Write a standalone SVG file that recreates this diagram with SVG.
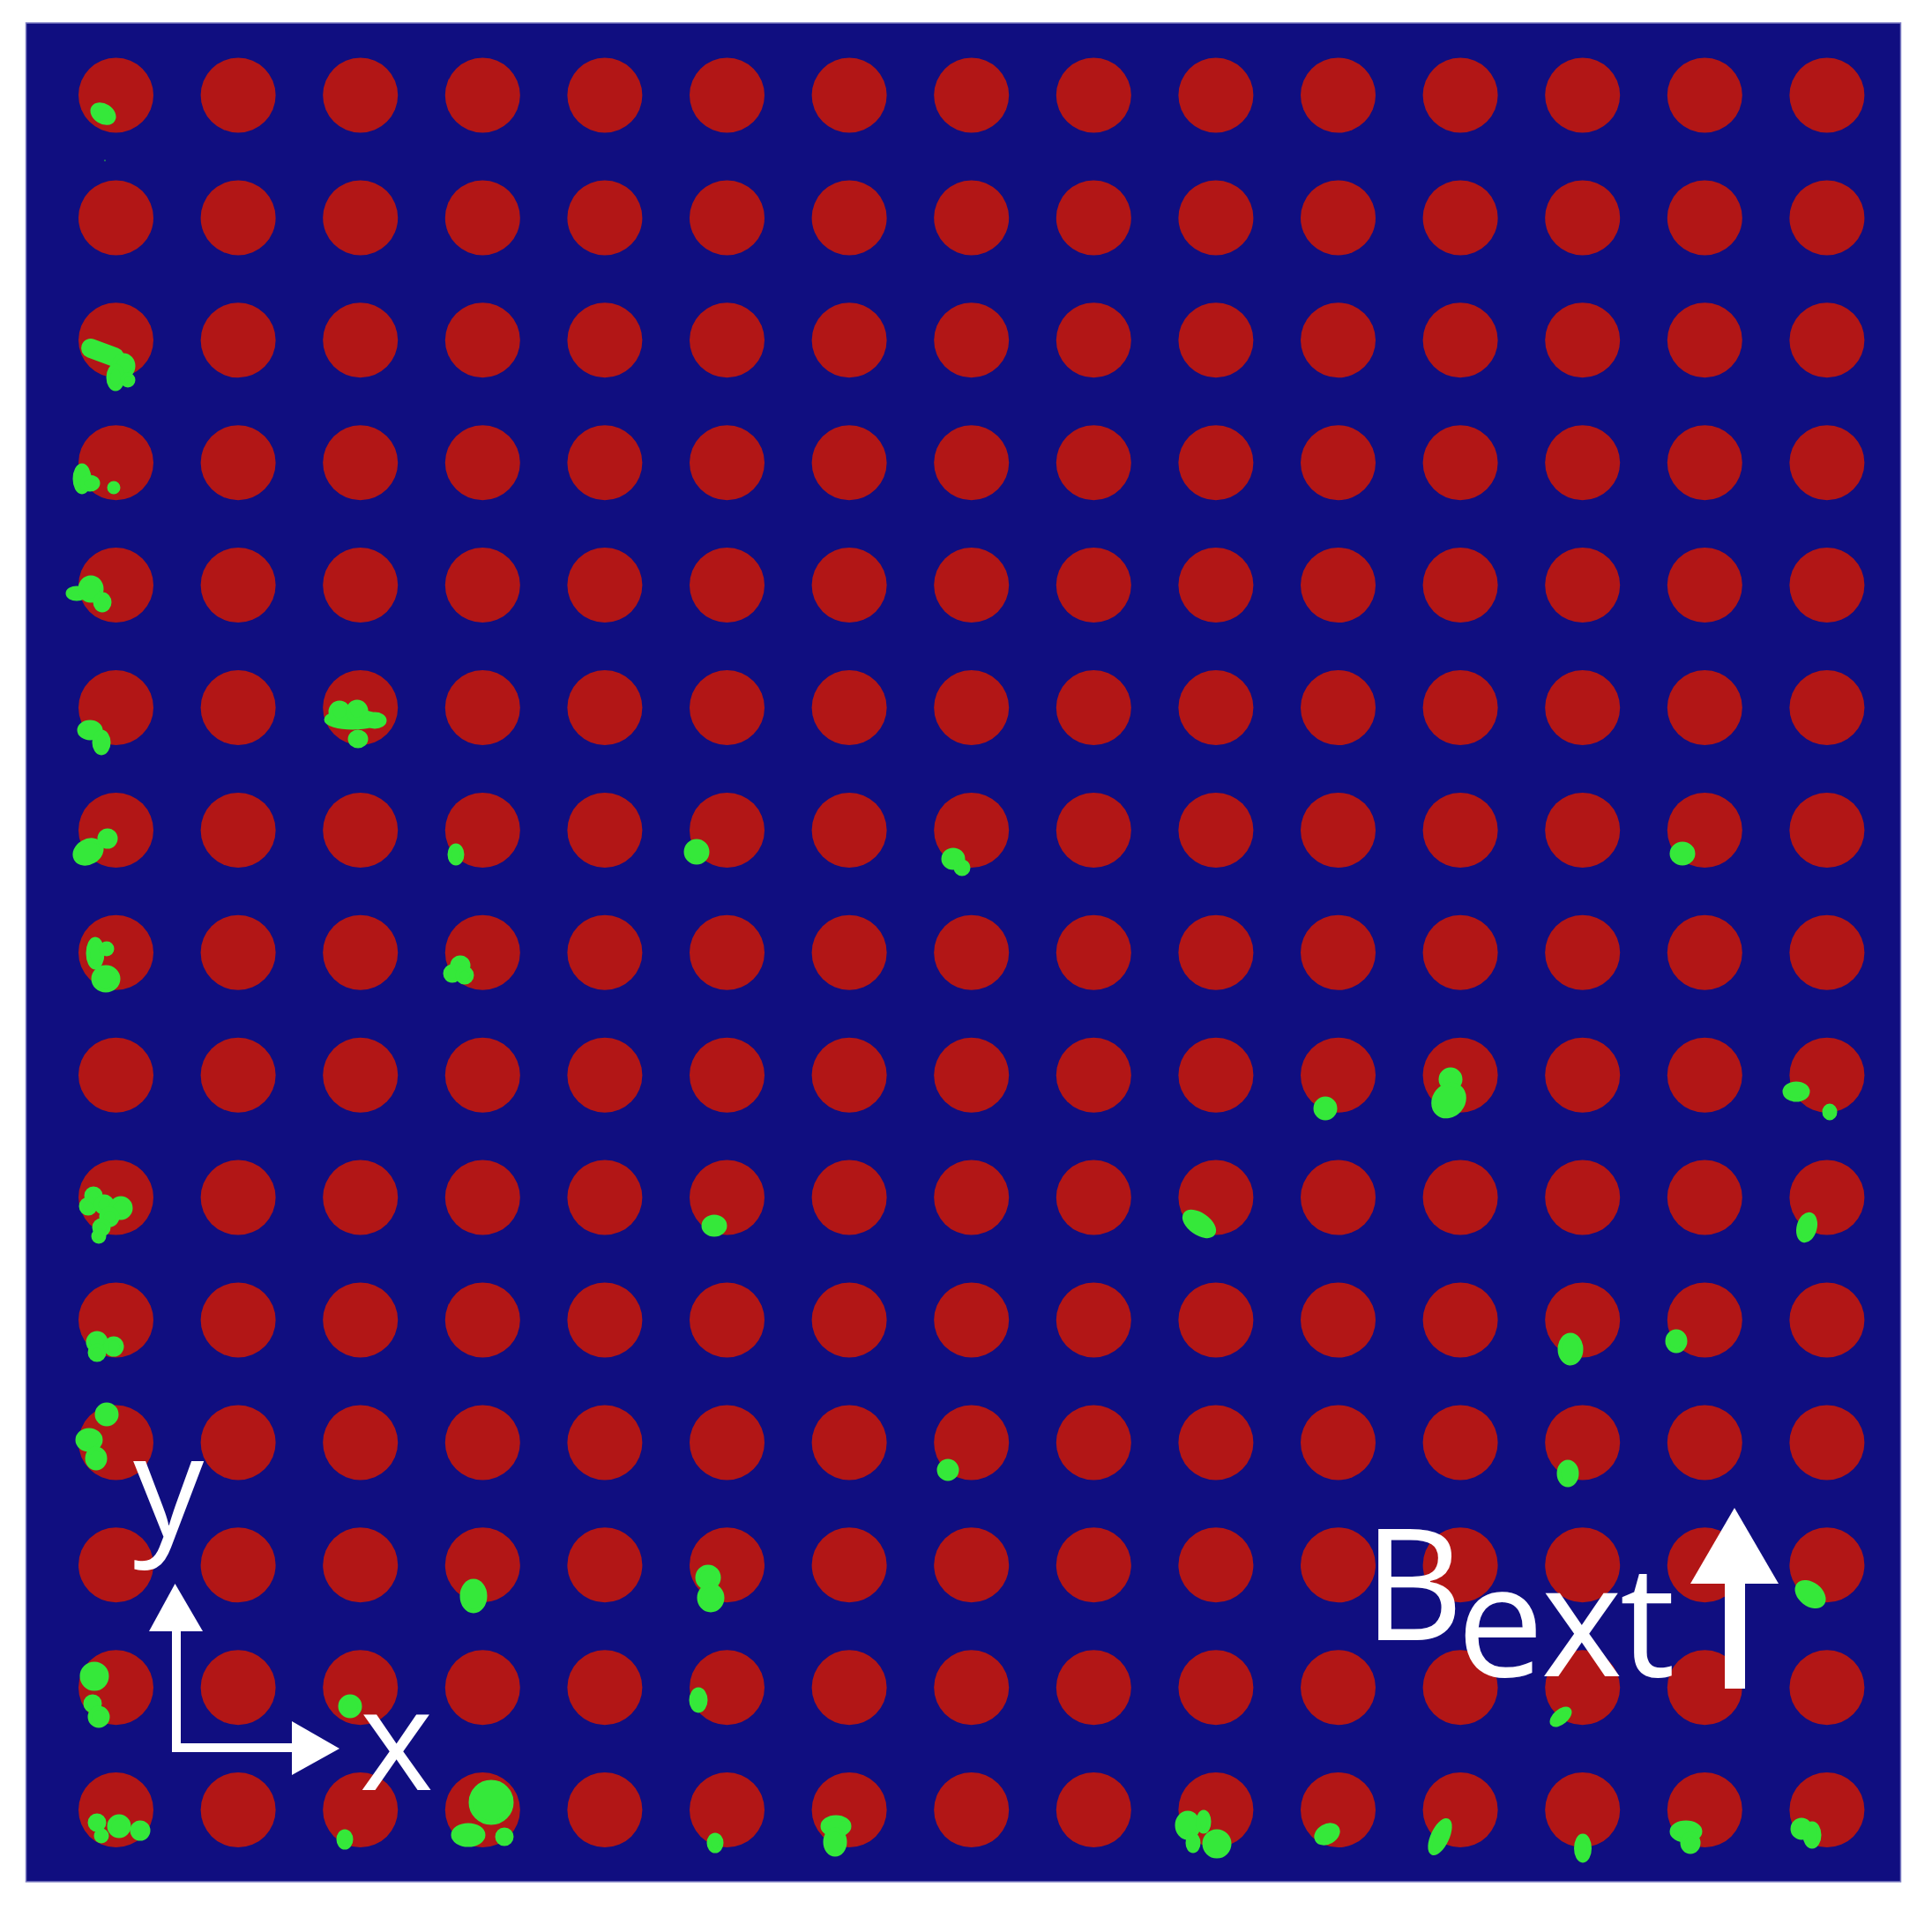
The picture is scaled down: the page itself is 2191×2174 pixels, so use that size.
<svg xmlns="http://www.w3.org/2000/svg" xmlns:xlink="http://www.w3.org/1999/xlink" width="2191" height="2174" viewBox="0 0 2191 2174">
<style>
.bg{fill:#100E80;stroke:#7F7FC4;stroke-width:1.5}
.dot{fill:#B21616}
.blob ellipse,.blob circle{fill:#35E83A;stroke:#35E83A;stroke-width:5}
.blob line{stroke:#35E83A;stroke-linecap:round}
.lbl{fill:#FFFFFF;font-family:"Open Sans","Liberation Sans",sans-serif}
.wh{fill:#FFFFFF}
</style>
<defs>
<g id="row">
<circle class="dot" cx="131.5" cy="0" r="42.5"/><circle class="dot" cx="270.1" cy="0" r="42.5"/><circle class="dot" cx="408.7" cy="0" r="42.5"/><circle class="dot" cx="547.3" cy="0" r="42.5"/><circle class="dot" cx="685.9" cy="0" r="42.5"/><circle class="dot" cx="824.5" cy="0" r="42.5"/><circle class="dot" cx="963.1" cy="0" r="42.5"/><circle class="dot" cx="1101.7" cy="0" r="42.5"/><circle class="dot" cx="1240.3" cy="0" r="42.5"/><circle class="dot" cx="1378.9" cy="0" r="42.5"/><circle class="dot" cx="1517.5" cy="0" r="42.5"/><circle class="dot" cx="1656.1" cy="0" r="42.5"/><circle class="dot" cx="1794.7" cy="0" r="42.5"/><circle class="dot" cx="1933.3" cy="0" r="42.5"/><circle class="dot" cx="2071.9" cy="0" r="42.5"/>
</g>
</defs>
<rect width="2191" height="2174" fill="#FFFFFF"/>
<rect id="sample" class="bg" x="29.5" y="26" width="2126" height="2108"/>
<g id="pillars">
<use xlink:href="#row" y="108"/>
<use xlink:href="#row" y="246.9"/>
<use xlink:href="#row" y="385.8"/>
<use xlink:href="#row" y="524.7"/>
<use xlink:href="#row" y="663.6"/>
<use xlink:href="#row" y="802.5"/>
<use xlink:href="#row" y="941.4"/>
<use xlink:href="#row" y="1080.3"/>
<use xlink:href="#row" y="1219.2"/>
<use xlink:href="#row" y="1358.1"/>
<use xlink:href="#row" y="1497"/>
<use xlink:href="#row" y="1635.9"/>
<use xlink:href="#row" y="1774.8"/>
<use xlink:href="#row" y="1913.7"/>
<use xlink:href="#row" y="2052.6"/>
</g>
<g id="domains" class="blob">
<!-- row 0 -->
<ellipse cx="117" cy="129" rx="13" ry="9" transform="rotate(32 117 129)"/>
<circle cx="119" cy="182" r="0.3" style="stroke-width:1"/>
<!-- row 2 -->
<line x1="103" y1="395" x2="130" y2="405" stroke-width="22"/>
<ellipse cx="140" cy="415" rx="11" ry="12"/>
<ellipse cx="131" cy="428" rx="8" ry="13"/>
<circle cx="145" cy="431" r="6"/>
<!-- row 3 -->
<ellipse cx="93" cy="543" rx="8" ry="15"/>
<ellipse cx="102" cy="548" rx="9" ry="7"/>
<circle cx="129" cy="553" r="5"/>
<!-- row 4 -->
<ellipse cx="87" cy="673" rx="10" ry="6"/>
<ellipse cx="103" cy="668" rx="12" ry="13"/>
<ellipse cx="116" cy="683" rx="8" ry="9"/>
<!-- row 5 -->
<ellipse cx="102" cy="828" rx="12" ry="9"/>
<ellipse cx="115" cy="842" rx="8" ry="12"/>
<ellipse cx="400" cy="816" rx="30" ry="9"/>
<circle cx="385" cy="807" r="10"/>
<circle cx="405" cy="806" r="10"/>
<ellipse cx="425" cy="817" rx="11" ry="7"/>
<ellipse cx="406" cy="838" rx="9" ry="8"/>
<!-- row 6 -->
<ellipse cx="100" cy="966" rx="16" ry="12" transform="rotate(-30 100 966)"/>
<circle cx="122" cy="951" r="9"/>
<ellipse cx="517" cy="969" rx="7" ry="10"/>
<ellipse cx="790" cy="966" rx="12" ry="12"/>
<ellipse cx="1081" cy="974" rx="11" ry="10"/>
<circle cx="1091" cy="984" r="7"/>
<ellipse cx="1908" cy="968" rx="12" ry="11"/>
<!-- row 7 -->
<ellipse cx="108" cy="1081" rx="8" ry="16"/>
<circle cx="121" cy="1076" r="6"/>
<ellipse cx="120" cy="1110" rx="14" ry="13"/>
<circle cx="522" cy="1095" r="9"/>
<circle cx="513" cy="1104" r="8"/>
<circle cx="527" cy="1106" r="8"/>
<!-- row 8 -->
<ellipse cx="1503" cy="1257" rx="11" ry="11"/>
<ellipse cx="1645" cy="1224" rx="11" ry="11"/>
<ellipse cx="1643" cy="1248" rx="19" ry="16" transform="rotate(-50 1643 1248)"/>
<ellipse cx="2037" cy="1238" rx="13" ry="9"/>
<ellipse cx="2075" cy="1261" rx="6" ry="7"/>
<!-- row 9 -->
<circle cx="106" cy="1356" r="8"/>
<circle cx="100" cy="1368" r="8"/>
<circle cx="118" cy="1366" r="9"/>
<circle cx="137" cy="1370" r="11"/>
<circle cx="124" cy="1380" r="9"/>
<circle cx="115" cy="1392" r="8"/>
<circle cx="112" cy="1402" r="6"/>
<ellipse cx="810" cy="1390" rx="12" ry="10"/>
<ellipse cx="1360" cy="1388" rx="19" ry="10" transform="rotate(35 1360 1388)"/>
<ellipse cx="2049" cy="1392" rx="9" ry="15" transform="rotate(15 2049 1392)"/>
<!-- row 10 -->
<circle cx="110" cy="1522" r="10"/>
<circle cx="110" cy="1534" r="8"/>
<circle cx="129" cy="1527" r="9"/>
<ellipse cx="1781" cy="1530" rx="12" ry="16"/>
<ellipse cx="1901" cy="1521" rx="10" ry="11"/>
<!-- row 11 -->
<circle cx="121" cy="1604" r="11"/>
<ellipse cx="101" cy="1633" rx="13" ry="11"/>
<ellipse cx="109" cy="1654" rx="10" ry="11"/>
<circle cx="1075" cy="1667" r="10"/>
<ellipse cx="1778" cy="1671" rx="10" ry="13"/>
<!-- row 12 -->
<ellipse cx="537" cy="1810" rx="13" ry="17"/>
<ellipse cx="803" cy="1789" rx="12" ry="12"/>
<ellipse cx="806" cy="1812" rx="13" ry="14"/>
<ellipse cx="2053" cy="1808" rx="17" ry="11" transform="rotate(38 2053 1808)"/>
<!-- row 13 -->
<circle cx="107" cy="1901" r="14"/>
<circle cx="105" cy="1932" r="8"/>
<circle cx="112" cy="1947" r="10"/>
<circle cx="397" cy="1935" r="11"/>
<ellipse cx="792" cy="1928" rx="8" ry="12"/>
<ellipse cx="1770" cy="1947" rx="12" ry="6" transform="rotate(-40 1770 1947)"/>
<!-- row 14 -->
<circle cx="110" cy="2067" r="8"/>
<circle cx="115" cy="2082" r="6"/>
<circle cx="135" cy="2071" r="11"/>
<circle cx="159" cy="2076" r="9"/>
<ellipse cx="391" cy="2086" rx="7" ry="9"/>
<ellipse cx="557" cy="2044" rx="23" ry="23"/>
<ellipse cx="531" cy="2081" rx="17" ry="11"/>
<circle cx="572" cy="2083" r="8"/>
<ellipse cx="811" cy="2090" rx="7" ry="9"/>
<ellipse cx="948" cy="2071" rx="15" ry="10"/>
<ellipse cx="947" cy="2089" rx="11" ry="14"/>
<ellipse cx="1347" cy="2070" rx="12" ry="14"/>
<ellipse cx="1365" cy="2066" rx="6" ry="11"/>
<circle cx="1380" cy="2091" r="14"/>
<ellipse cx="1353" cy="2090" rx="6" ry="9"/>
<ellipse cx="1505" cy="2080" rx="13" ry="9" transform="rotate(-30 1505 2080)"/>
<ellipse cx="1633" cy="2083" rx="8" ry="20" transform="rotate(25 1633 2083)"/>
<ellipse cx="1795" cy="2096" rx="7.5" ry="14"/>
<ellipse cx="1912" cy="2077" rx="16" ry="10"/>
<ellipse cx="1917" cy="2090" rx="9" ry="10"/>
<circle cx="2043" cy="2074" r="10"/>
<ellipse cx="2055" cy="2081" rx="8" ry="13"/>
</g>
<g id="axes">
<path d="M200,1850 V1982 H331" fill="none" stroke="#FFFFFF" stroke-width="10" stroke-linejoin="miter"/>
<polygon class="wh" points="198.5,1796 169,1850 230,1850"/>
<polygon class="wh" points="385,1983 331,1952 331,2013"/>
<text class="lbl" x="191" y="1743" font-size="160" text-anchor="middle">y</text>
<text class="lbl" x="449.5" y="2030" font-size="160" text-anchor="middle">x</text>
</g>
<g id="field">
<rect class="wh" x="1956" y="1794" width="23" height="121"/>
<polygon class="wh" points="1967,1710 1917,1796 2017,1796"/>
<text class="lbl" font-size="176"><tspan x="1546" y="1860">B</tspan><tspan x="1652" y="1901" letter-spacing="-3">ext</tspan></text>
</g>
</svg>
